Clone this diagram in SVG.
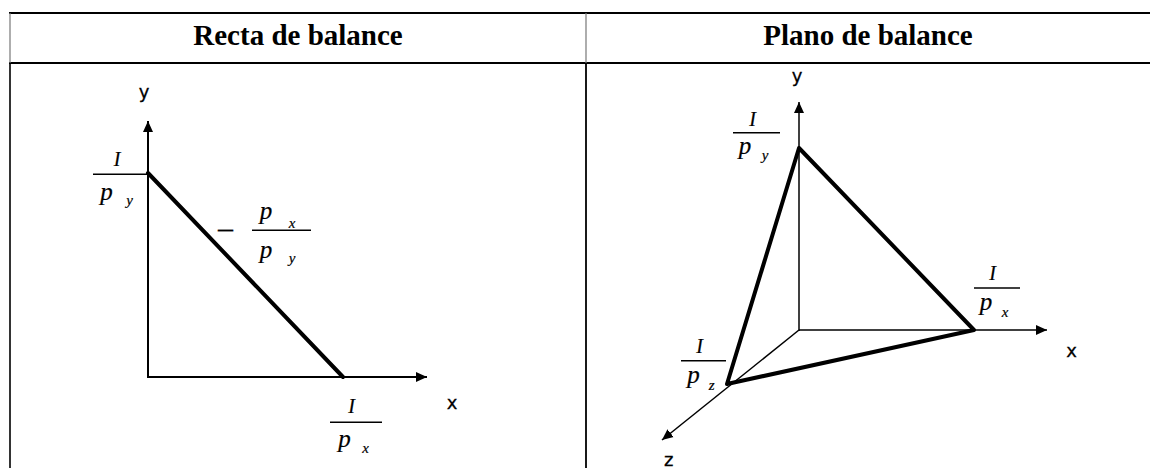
<svg xmlns="http://www.w3.org/2000/svg" width="1150" height="468" viewBox="0 0 1150 468">
<defs>
<style>
.hdr{font-family:"Liberation Serif","Times New Roman",serif;font-weight:bold;font-size:29px;text-anchor:middle;fill:#000}
.ax{font-family:"DejaVu Sans","Verdana",sans-serif;font-size:18px;text-anchor:middle;fill:#000;stroke:#000;stroke-width:0.3}
.m{font-family:"Liberation Serif","Times New Roman",serif;font-style:italic;text-anchor:middle;fill:#000;stroke:#000;stroke-width:0.2}
.big{font-size:25px}
.cap{font-size:20px}
.sub{font-size:15px}
.axis{stroke:#000;stroke-width:2;fill:none}
.axis2{stroke:#000;stroke-width:1.5;fill:none}
.thick{stroke:#000;stroke-width:4;fill:none;stroke-linecap:round;stroke-linejoin:round}
.bar{stroke:#000;stroke-width:1.6}
.grid{stroke:#000;stroke-width:2}
</style>
<marker id="arr" markerUnits="userSpaceOnUse" markerWidth="12" markerHeight="12" viewBox="0 0 12 12" refX="11" refY="6" orient="auto">
<path d="M0,1 L11,6 L0,11 Z" fill="#000"/>
</marker>
</defs>
<rect width="1150" height="468" fill="#fff"/>
<g id="table">
<line class="grid" x1="9" y1="13" x2="1150" y2="13"/>
<line class="grid" x1="9" y1="63" x2="1150" y2="63"/>
<line x1="10" y1="13" x2="10" y2="63" stroke="#777" stroke-width="1.2"/>
<line x1="586" y1="13" x2="586" y2="63" stroke="#777" stroke-width="1.2"/>
<line x1="10" y1="63" x2="10" y2="468" stroke="#000" stroke-width="1.6"/>
<line x1="586" y1="63" x2="586" y2="468" stroke="#000" stroke-width="1.8"/>
<text class="hdr" x="298" y="45">Recta de balance</text>
<text class="hdr" x="868" y="45">Plano de balance</text>
</g>
<g id="connectors">
<line class="axis" x1="148" y1="378" x2="148" y2="121" marker-end="url(#arr)"/>
<line class="axis" x1="147" y1="377" x2="427" y2="377" marker-end="url(#arr)"/>
<line class="thick" x1="148" y1="173" x2="343" y2="377"/>
<line class="axis2" x1="799" y1="331" x2="799" y2="102" marker-end="url(#arr)"/>
<line class="axis2" x1="799" y1="330" x2="1047" y2="330" marker-end="url(#arr)"/>
<line class="axis2" x1="799" y1="330" x2="662" y2="440" marker-end="url(#arr)"/>
<polygon class="thick" points="799,148 974,330 727,384"/>
</g>
<g id="left-labels">
<text class="ax" x="144" y="98">y</text>
<text class="ax" x="452" y="409">x</text>
<g id="frac-I-py-left">
<text class="m cap" x="117" y="166">I</text>
<line class="bar" x1="93" y1="174.3" x2="148" y2="174.3"/>
<text class="m big" x="106.5" y="200">p</text>
<text class="m sub" x="129.5" y="205">y</text>
</g>
<g id="slope">
<text class="m" x="225.5" y="238" font-style="normal" font-size="30">–</text>
<text class="m big" x="266" y="219">p</text>
<text class="m sub" x="292" y="228">x</text>
<line class="bar" x1="252" y1="230.3" x2="311" y2="230.3"/>
<text class="m big" x="266" y="258">p</text>
<text class="m sub" x="292" y="263">y</text>
</g>
<g id="frac-I-px-left">
<text class="m cap" x="351.5" y="413">I</text>
<line class="bar" x1="330" y1="422.3" x2="382" y2="422.3"/>
<text class="m big" x="344.5" y="447">p</text>
<text class="m sub" x="365.5" y="453">x</text>
</g>
</g>
<g id="right-labels">
<text class="ax" x="797" y="82">y</text>
<text class="ax" x="1071.5" y="357">x</text>
<text class="ax" x="668.8" y="466">z</text>
<g id="frac-I-py-right">
<text class="m cap" x="752.5" y="126">I</text>
<line class="bar" x1="733" y1="132.7" x2="780" y2="132.7"/>
<text class="m big" x="745" y="154">p</text>
<text class="m sub" x="765" y="160">y</text>
</g>
<g id="frac-I-px-right">
<text class="m cap" x="992.5" y="280">I</text>
<line class="bar" x1="974" y1="288" x2="1020" y2="288"/>
<text class="m big" x="986" y="310">p</text>
<text class="m sub" x="1005" y="317">x</text>
</g>
<g id="frac-I-pz-right">
<text class="m cap" x="699.6" y="353">I</text>
<line class="bar" x1="681" y1="360.7" x2="726" y2="360.7"/>
<text class="m big" x="693.5" y="383">p</text>
<text class="m sub" x="711.7" y="390">z</text>
</g>
</g>
</svg>
